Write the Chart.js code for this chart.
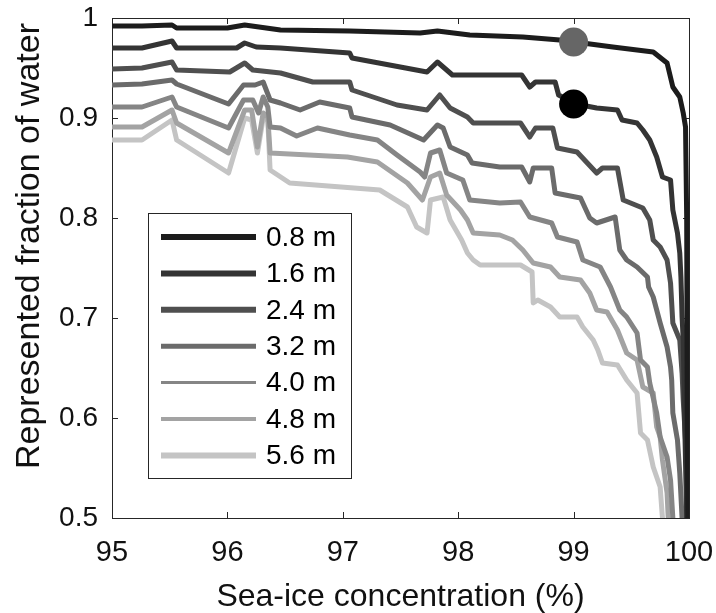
<!DOCTYPE html>
<html>
<head>
<meta charset="utf-8">
<script src="https://cdn.jsdelivr.net/npm/chart.js@4.4.0/dist/chart.umd.min.js"></script>
<style>
  html, body { margin: 0; padding: 0; background: #fff; }
  canvas { display: block; }
</style>
</head>
<body>
<canvas id="chart" width="716" height="613"></canvas>
<script>
// ice thickness labels (legend)
var labels = ['0.8 m', '1.6 m', '2.4 m', '3.2 m', '4.0 m', '4.8 m', '5.6 m'];

// [sea-ice concentration %, represented fraction of water]
var s08 = [[95,0.992],[95.26,0.992],[95.52,0.993],[95.56,0.990],[96.0,0.990],[96.15,0.993],[96.46,0.988],[97.06,0.987],[97.67,0.985],[97.82,0.987],[98.1,0.983],[98.56,0.981],[98.88,0.978],[99.34,0.971],[99.69,0.966],[99.81,0.955],[99.86,0.931],[99.92,0.921],[99.95,0.905],[99.97,0.891],[99.98,0.8],[99.985,0.6],[99.99,0.5]];
var s16 = [[95,0.970],[95.26,0.970],[95.52,0.977],[95.56,0.970],[96.08,0.970],[96.15,0.975],[96.25,0.971],[96.46,0.970],[97.06,0.965],[97.08,0.960],[97.73,0.946],[97.82,0.956],[97.95,0.943],[98.55,0.943],[98.62,0.931],[98.67,0.936],[98.84,0.936],[98.87,0.923],[99.02,0.914],[99.2,0.910],[99.38,0.908],[99.42,0.898],[99.55,0.895],[99.6,0.888],[99.66,0.878],[99.72,0.861],[99.77,0.841],[99.84,0.838],[99.86,0.808],[99.9,0.785],[99.92,0.765],[99.93,0.741],[99.94,0.701],[99.95,0.678],[99.96,0.611],[99.98,0.5]];
var s24 = [[95,0.949],[95.26,0.950],[95.52,0.956],[95.56,0.948],[96.02,0.946],[96.15,0.955],[96.22,0.948],[96.46,0.945],[96.74,0.936],[97.06,0.936],[97.08,0.928],[97.47,0.913],[97.73,0.908],[97.84,0.923],[97.93,0.910],[98.08,0.901],[98.13,0.895],[98.54,0.895],[98.62,0.881],[98.67,0.890],[98.82,0.890],[98.86,0.870],[99.03,0.866],[99.2,0.845],[99.25,0.850],[99.38,0.850],[99.43,0.818],[99.6,0.810],[99.66,0.798],[99.69,0.778],[99.75,0.771],[99.81,0.758],[99.84,0.735],[99.86,0.695],[99.92,0.678],[99.94,0.645],[99.95,0.618],[99.97,0.578],[99.98,0.545],[99.98,0.5]];
var s32 = [[95,0.933],[95.26,0.934],[95.52,0.938],[95.56,0.934],[96.01,0.914],[96.14,0.933],[96.24,0.933],[96.31,0.936],[96.37,0.918],[96.46,0.915],[96.63,0.908],[96.8,0.916],[97.06,0.910],[97.08,0.901],[97.41,0.893],[97.7,0.878],[97.82,0.893],[97.87,0.890],[97.93,0.871],[98.08,0.863],[98.12,0.855],[98.36,0.851],[98.55,0.851],[98.62,0.836],[98.65,0.850],[98.81,0.850],[98.84,0.825],[99.06,0.820],[99.14,0.800],[99.2,0.795],[99.36,0.801],[99.4,0.768],[99.46,0.758],[99.55,0.751],[99.64,0.741],[99.65,0.731],[99.69,0.721],[99.75,0.695],[99.81,0.671],[99.84,0.651],[99.85,0.638],[99.86,0.605],[99.9,0.578],[99.92,0.545],[99.94,0.5]];
var s40 = [[95,0.911],[95.26,0.911],[95.52,0.921],[95.56,0.911],[96.01,0.890],[96.14,0.918],[96.22,0.918],[96.27,0.905],[96.31,0.921],[96.35,0.911],[96.37,0.891],[96.46,0.890],[96.6,0.882],[96.78,0.890],[97.06,0.883],[97.3,0.878],[97.47,0.863],[97.67,0.846],[97.71,0.841],[97.76,0.865],[97.84,0.868],[97.9,0.845],[98.04,0.838],[98.1,0.818],[98.36,0.815],[98.54,0.816],[98.62,0.801],[98.81,0.795],[98.86,0.781],[99.03,0.776],[99.08,0.758],[99.23,0.751],[99.32,0.731],[99.4,0.708],[99.46,0.701],[99.55,0.685],[99.58,0.658],[99.64,0.651],[99.66,0.635],[99.72,0.605],[99.75,0.581],[99.81,0.561],[99.84,0.538],[99.86,0.5]];
var s48 = [[95,0.891],[95.26,0.891],[95.52,0.908],[95.56,0.895],[96.01,0.865],[96.15,0.908],[96.21,0.908],[96.26,0.871],[96.31,0.905],[96.35,0.901],[96.37,0.865],[97.04,0.861],[97.3,0.856],[97.56,0.835],[97.69,0.818],[97.76,0.841],[97.84,0.845],[97.9,0.823],[98.02,0.808],[98.08,0.798],[98.13,0.785],[98.36,0.783],[98.47,0.778],[98.56,0.768],[98.65,0.755],[98.8,0.751],[98.88,0.741],[99.06,0.738],[99.14,0.725],[99.2,0.708],[99.29,0.706],[99.38,0.688],[99.46,0.665],[99.55,0.658],[99.6,0.631],[99.69,0.625],[99.72,0.591],[99.75,0.581],[99.77,0.558],[99.81,0.525],[99.82,0.5]];
var s56 = [[95,0.878],[95.26,0.878],[95.52,0.898],[95.56,0.878],[96.01,0.845],[96.15,0.900],[96.21,0.898],[96.26,0.865],[96.31,0.900],[96.35,0.898],[96.37,0.848],[96.54,0.835],[97.32,0.828],[97.56,0.811],[97.64,0.791],[97.73,0.785],[97.76,0.818],[97.87,0.821],[97.93,0.798],[98.03,0.778],[98.08,0.765],[98.13,0.758],[98.19,0.753],[98.54,0.753],[98.64,0.746],[98.65,0.715],[98.69,0.718],[98.8,0.711],[98.88,0.701],[99.03,0.701],[99.08,0.691],[99.17,0.678],[99.21,0.668],[99.25,0.655],[99.38,0.653],[99.46,0.638],[99.55,0.625],[99.58,0.585],[99.64,0.578],[99.69,0.551],[99.75,0.531],[99.77,0.5]];

// the two highlighted points
var markerX = [99, 99];
var markerY = [0.976, 0.914];

var xTicks = [95, 96, 97, 98, 99, 100];
var yTicks = [0.5, 0.6, 0.7, 0.8, 0.9, 1];
var yTitle = 'Represented fraction of water';

var series = [s08, s16, s24, s32, s40, s48, s56];
var colors = ['#1c1c1c', '#343434', '#4f4f4f', '#6b6b6b', '#858585', '#a3a3a3', '#c4c4c4'];
var legendWidths = [6, 6, 6, 5, 3, 4, 6];
var markerColors = ['#666666', '#000000'];
var FONT = "'Liberation Sans', Arial, Helvetica, sans-serif";
var INK = '#262626';

var datasets = series.map(function(s, i){
  return {
    label: labels[i],
    data: s.map(function(p){ return {x: p[0], y: p[1]}; }),
    showLine: true,
    borderColor: colors[i],
    backgroundColor: colors[i],
    borderWidth: 5,
    borderJoinStyle: 'round',
    borderCapStyle: 'round',
    tension: 0,
    pointRadius: 0,
    order: 1
  };
});
markerX.forEach(function(x, i){
  datasets.push({
    label: 'marker' + i,
    data: [{x: x, y: markerY[i]}],
    pointRadius: 14.5,
    pointBackgroundColor: markerColors[i],
    pointBorderWidth: 0,
    order: 0
  });
});

// no extra room for overflowing tick labels, so the plot box lands where the layout says
function noOverflow(s){
  s.paddingLeft = 0; s.paddingRight = 0; s.paddingTop = 0; s.paddingBottom = 0;
}

// box + inward ticks, MATLAB style
var frame = {
  id: 'frame',
  beforeDatasetsDraw: function(chart){
    var c = chart.ctx, a = chart.chartArea;
    var xs = chart.scales.x, ys = chart.scales.y;
    c.save();
    c.strokeStyle = INK;
    c.lineWidth = 1;
    c.strokeRect(Math.round(a.left) + 0.5, Math.round(a.top) + 0.5, Math.round(a.right - a.left), Math.round(a.bottom - a.top));
    c.beginPath();
    xTicks.forEach(function(t){
      var px = Math.round(xs.getPixelForValue(t)) + 0.5;
      c.moveTo(px, a.bottom); c.lineTo(px, a.bottom - 6);
      c.moveTo(px, a.top); c.lineTo(px, a.top + 6);
    });
    yTicks.forEach(function(t){
      var py = Math.round(ys.getPixelForValue(t)) + 0.5;
      c.moveTo(a.left, py); c.lineTo(a.left + 6, py);
      c.moveTo(a.right, py); c.lineTo(a.right - 6, py);
    });
    c.stroke();
    // y title sits a little above the axis middle in the original
    c.translate(30, 246);
    c.rotate(-Math.PI / 2);
    c.font = '34px ' + FONT;
    c.fillStyle = '#111';
    c.textAlign = 'center';
    c.textBaseline = 'middle';
    c.fillText(yTitle, 0, 0);
    c.restore();
  }
};

var legendBox = {
  id: 'legendBox',
  afterDraw: function(chart){
    var c = chart.ctx;
    var bx = 148, by = 213, bw = 203, bh = 265;
    c.save();
    c.fillStyle = '#fff';
    c.fillRect(bx, by, bw, bh);
    c.strokeStyle = INK;
    c.lineWidth = 1;
    c.strokeRect(bx + 0.5, by + 0.5, bw, bh);
    c.font = '28px ' + FONT;
    c.textBaseline = 'middle';
    c.fillStyle = '#000';
    labels.forEach(function(l, i){
      var y = by + 24 + i * 36.4;
      c.strokeStyle = colors[i];
      c.lineWidth = legendWidths[i];
      c.beginPath();
      c.moveTo(161, y); c.lineTo(256, y);
      c.stroke();
      c.fillText(l, 266, y + 1);
    });
    c.restore();
  }
};

var ctx = document.getElementById('chart').getContext('2d');
var chart = new Chart(ctx, {
  type: 'scatter',
  data: { datasets: datasets },
  plugins: [frame, legendBox],
  options: {
    responsive: false,
    animation: false,
    layout: { padding: { left: 0, right: 27, top: 18, bottom: 0 } },
    plugins: {
      legend: { display: false },
      tooltip: { enabled: false }
    },
    scales: {
      x: {
        type: 'linear',
        min: 95,
        max: 100,
        afterFit: function(s){ s.height = 95; noOverflow(s); },
        afterBuildTicks: function(s){ s.ticks = xTicks.map(function(v){ return {value: v}; }); },
        grid: { display: false, drawTicks: false },
        border: { display: false },
        ticks: {
          color: '#111',
          padding: 18,
          font: { family: FONT, size: 29 },
          callback: function(v){ return String(v); }
        },
        title: {
          display: true,
          text: 'Sea-ice concentration (%)',
          color: '#111',
          padding: { top: 0, bottom: 0 },
          font: { family: FONT, size: 32, lineHeight: 1 }
        }
      },
      y: {
        type: 'linear',
        min: 0.5,
        max: 1,
        afterFit: function(s){ s.width = 112; noOverflow(s); },
        afterBuildTicks: function(s){ s.ticks = yTicks.map(function(v){ return {value: v}; }); },
        grid: { display: false, drawTicks: false },
        border: { display: false },
        ticks: {
          color: '#111',
          padding: 14,
          font: { family: FONT, size: 28 },
          callback: function(v){ return v === 1 ? '1' : v.toFixed(1); }
        },
        title: { display: false }
      }
    }
  }
});
</script>
</body>
</html>
